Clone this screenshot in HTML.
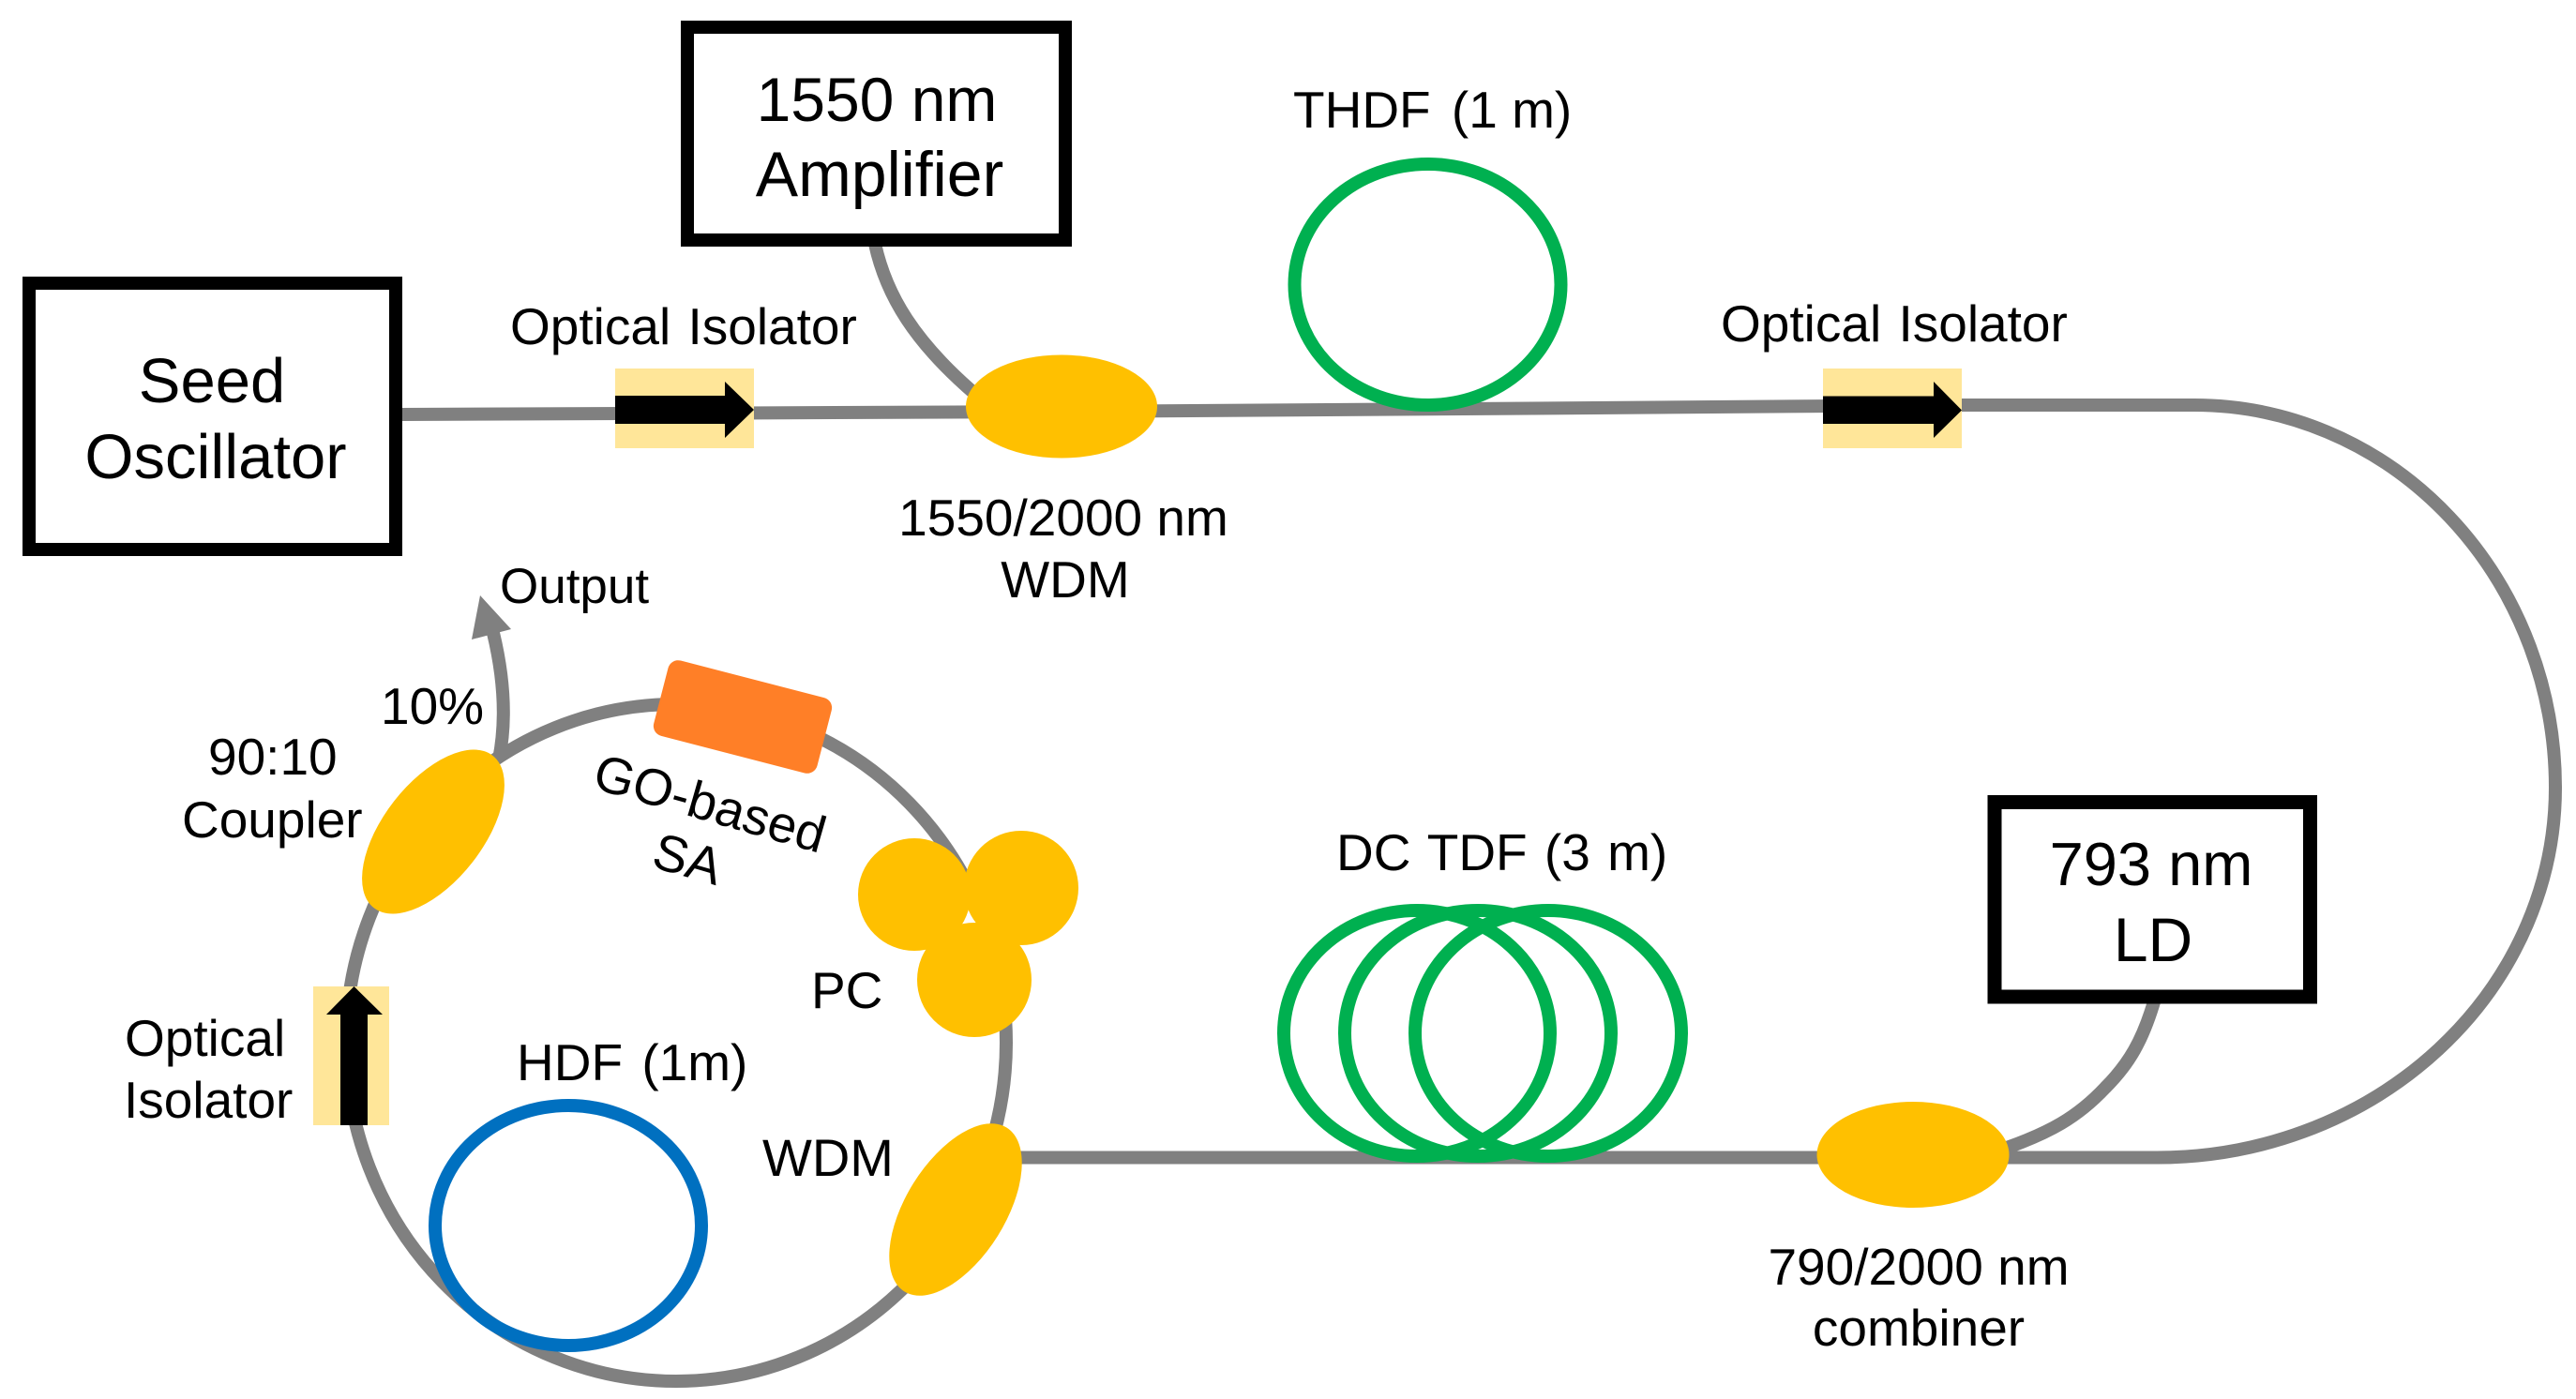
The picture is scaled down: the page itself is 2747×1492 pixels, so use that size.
<!DOCTYPE html>
<html>
<head>
<meta charset="utf-8">
<style>
html,body{margin:0;padding:0;background:#fff;width:2747px;height:1492px;overflow:hidden}
svg{display:block}
text{font-family:"Liberation Sans",sans-serif;fill:#000;white-space:pre}
.l{font-size:66px}
.m{font-size:55px}
</style>
</head>
<body>
<svg width="2747" height="1492" viewBox="0 0 2747 1492" xmlns="http://www.w3.org/2000/svg">
<rect width="2747" height="1492" fill="#fff"/>

<!-- fibre lines -->
<g fill="none" stroke="#808080" stroke-width="14">
  <path d="M429,442 L1134,439 L1700,435 L2092,432 L2340,432 A385,408 0 0 1 2725,840 A425,394.5 0 0 1 2300,1234.5 L1080,1234.5"/>
  <path d="M933,260 C945,315 975,365 1042,422"/>
  <path d="M2298,1065 C2285,1110 2270,1135 2245,1160 C2215,1192 2185,1208 2140,1224"/>
  <ellipse cx="721" cy="1112" rx="352" ry="361"/>
  <path d="M532,810 C540,770 538,725 526,675"/>
</g>
<polygon points="512,635 503,682 545,671" fill="#808080"/>

<!-- boxes -->
<g fill="#fff" stroke="#000">
  <rect x="31" y="302" width="391" height="284" stroke-width="14"/>
  <rect x="733" y="29" width="403" height="227" stroke-width="14"/>
  <rect x="2127" y="855.5" width="336.5" height="207.5" stroke-width="15"/>
</g>

<!-- isolators -->
<rect x="656" y="393" width="148" height="85" fill="#FFE699"/>
<polygon points="656,422 773,422 773,407 804,437 773,467 773,452 656,452" fill="#000"/>
<rect x="1944" y="393" width="148" height="85" fill="#FFE699"/>
<polygon points="1944,422.5 2062,422.5 2062,407 2092,437.5 2062,467 2062,452 1944,452" fill="#000"/>
<rect x="334" y="1052" width="81" height="148" fill="#FFE699"/>
<polygon points="363,1200 363,1082 348,1082 377.5,1052 408,1082 392,1082 392,1200" fill="#000"/>

<!-- couplers -->
<g fill="#FFC000">
  <ellipse cx="1132" cy="433.5" rx="102" ry="55"/>
  <ellipse cx="2040" cy="1231.5" rx="102.5" ry="56.5"/>
  <ellipse cx="462" cy="887" rx="103" ry="53" transform="rotate(-52 462 887)"/>
  <ellipse cx="1019" cy="1290" rx="103" ry="53" transform="rotate(-58 1019 1290)"/>
  <circle cx="975" cy="954" r="60"/>
  <circle cx="1089" cy="947" r="61"/>
  <circle cx="1039" cy="1045" r="61"/>
</g>

<!-- SA -->
<rect x="702" y="723" width="180" height="83" rx="11" ry="11" fill="#FF7F27" transform="rotate(14.5 792 764.5)"/>

<!-- fibre coils -->
<g fill="none" stroke="#00B050" stroke-width="14">
  <ellipse cx="1522.5" cy="303.5" rx="142" ry="128.5"/>
  <ellipse cx="1511" cy="1102" rx="142" ry="131"/>
  <ellipse cx="1576" cy="1102" rx="142" ry="131"/>
  <ellipse cx="1651" cy="1102" rx="142" ry="131"/>
</g>
<ellipse cx="606" cy="1307" rx="142" ry="128" fill="none" stroke="#0070C0" stroke-width="14"/>

<!-- box labels -->
<text class="l" x="226" y="429" text-anchor="middle" style="font-size:67px">Seed</text>
<text class="l" x="230" y="510" text-anchor="middle" style="font-size:67px">Oscillator</text>
<text class="l" x="935" y="129" text-anchor="middle">1550 nm</text>
<text class="l" x="938" y="209" text-anchor="middle" style="font-size:68px">Amplifier</text>
<text class="l" x="2294" y="944" text-anchor="middle" style="font-size:65px">793 nm</text>
<text class="l" x="2296" y="1025" text-anchor="middle">LD</text>

<!-- labels -->
<text class="m" x="544" y="367" style="word-spacing:3px">Optical Isolator</text>
<text class="m" x="1835" y="364" style="word-spacing:3px">Optical Isolator</text>
<text class="m" x="1379" y="136">THDF<tspan dx="7"> (1 m)</tspan></text>
<text class="m" x="1134" y="571" text-anchor="middle">1550/2000 nm</text>
<text class="m" x="1136" y="637" text-anchor="middle">WDM</text>
<text class="m" x="533" y="643" style="font-size:53px">Output</text>
<text class="m" x="406" y="772">10%</text>
<text class="m" x="222" y="826">90:10</text>
<text class="m" x="194" y="893">Coupler</text>
<text class="m" x="630" y="840" transform="rotate(16 630 840)">GO-based</text>
<text class="m" x="693" y="924" transform="rotate(16 693 924)">SA</text>
<text class="m" x="865" y="1075">PC</text>
<text class="m" x="551" y="1152" style="word-spacing:5px">HDF (1m)</text>
<text class="m" x="813" y="1254" style="font-size:56px">WDM</text>
<text class="m" x="133" y="1126">Optical</text>
<text class="m" x="132" y="1192">Isolator</text>
<text class="m" x="1425" y="928" style="word-spacing:3px">DC TDF (3 m)</text>
<text class="m" x="2046" y="1370" text-anchor="middle">790/2000 nm</text>
<text class="m" x="2046" y="1435" text-anchor="middle">combiner</text>
</svg>
</body>
</html>
